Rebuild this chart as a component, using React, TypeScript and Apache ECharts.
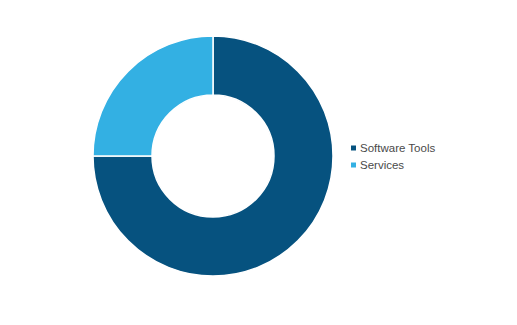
import React, { useEffect, useRef } from "react";
import * as echarts from "echarts";

const categories = ["Software Tools", "Services"];
const values = [75, 25];
const colors = ["#06527F", "#33B0E3"];

export default function App() {
  const ref = useRef<HTMLDivElement>(null);
  useEffect(() => {
    if (!ref.current) return;
    const chart = echarts.init(ref.current, undefined, { renderer: "svg" });
    chart.setOption({
      animation: false,
      backgroundColor: "#ffffff",
      legend: {
        orient: "vertical",
        left: 344,
        top: 137,
        itemWidth: 7,
        itemHeight: 7,
        itemGap: 5,
        icon: "rect",
        data: categories,
        textStyle: { fontFamily: "Arial", fontSize: 11.5, color: "#4a4a4a", padding: [0, 0, 0, -2] },
      },
      series: [
        {
          type: "pie",
          center: [213, 156],
          radius: [61, 120],
          startAngle: 90,
          clockwise: true,
          label: { show: false },
          labelLine: { show: false },
          itemStyle: { borderColor: "#ffffff", borderWidth: 1.5 },
          emphasis: { disabled: true },
          data: categories.map((name, i) => ({
            name,
            value: values[i],
            itemStyle: { color: colors[i] },
          })),
        },
      ],
    });
    return () => chart.dispose();
  }, []);
  return (
    <div
      ref={ref}
      style={{ position: "fixed", left: 0, top: 0, width: 517, height: 325 }}
    />
  );
}
